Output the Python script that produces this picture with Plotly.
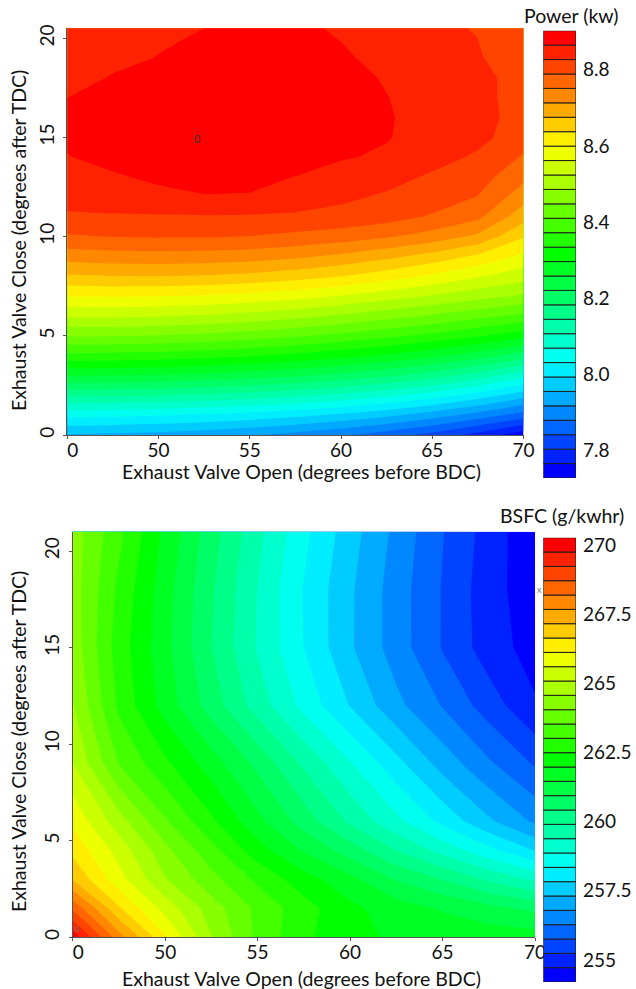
import numpy as np
import plotly.graph_objects as go

# ---------------- data ----------------
# Exhaust valve open timing (degrees before BDC)
evo = [45, 47.5, 50, 52.5, 55, 57.5, 60, 62.5, 65, 67.5, 70]

# Exhaust valve close timing (degrees after TDC) for the power map
evc_power = [0, 1, 2, 3, 4, 5, 6, 7, 8, 9, 10, 11, 12, 13, 14, 15, 16, 17, 18, 19, 20, 20.5]

# Brake power (kW); one row per EVC value, one column per EVO value
power_kw = [
    [7.950, 7.946, 7.940, 7.931, 7.919, 7.903, 7.883, 7.858, 7.827, 7.788, 7.740],
    [8.040, 8.037, 8.032, 8.025, 8.015, 8.001, 7.984, 7.962, 7.934, 7.899, 7.860],
    [8.150, 8.148, 8.144, 8.137, 8.127, 8.114, 8.097, 8.076, 8.049, 8.013, 7.970],
    [8.260, 8.258, 8.254, 8.247, 8.237, 8.224, 8.208, 8.188, 8.163, 8.127, 8.080],
    [8.360, 8.358, 8.354, 8.347, 8.337, 8.324, 8.308, 8.289, 8.267, 8.237, 8.200],
    [8.450, 8.449, 8.445, 8.438, 8.428, 8.415, 8.399, 8.381, 8.361, 8.337, 8.310],
    [8.530, 8.530, 8.526, 8.520, 8.510, 8.497, 8.481, 8.462, 8.442, 8.421, 8.400],
    [8.600, 8.602, 8.600, 8.595, 8.587, 8.575, 8.559, 8.540, 8.520, 8.500, 8.480],
    [8.670, 8.674, 8.675, 8.672, 8.665, 8.653, 8.637, 8.617, 8.592, 8.565, 8.540],
    [8.730, 8.735, 8.737, 8.735, 8.730, 8.720, 8.705, 8.685, 8.660, 8.630, 8.590],
    [8.785, 8.790, 8.792, 8.792, 8.788, 8.780, 8.770, 8.755, 8.735, 8.705, 8.640],
    [8.820, 8.822, 8.823, 8.824, 8.823, 8.820, 8.816, 8.805, 8.785, 8.760, 8.690],
    [8.845, 8.853, 8.858, 8.863, 8.861, 8.852, 8.834, 8.822, 8.808, 8.788, 8.730],
    [8.857, 8.862, 8.870, 8.878, 8.880, 8.864, 8.850, 8.840, 8.822, 8.806, 8.760],
    [8.864, 8.873, 8.881, 8.889, 8.892, 8.886, 8.868, 8.860, 8.840, 8.822, 8.785],
    [8.869, 8.878, 8.886, 8.895, 8.900, 8.897, 8.885, 8.867, 8.851, 8.836, 8.810],
    [8.870, 8.878, 8.885, 8.893, 8.898, 8.896, 8.886, 8.868, 8.852, 8.838, 8.815],
    [8.865, 8.873, 8.880, 8.888, 8.894, 8.893, 8.883, 8.866, 8.850, 8.836, 8.815],
    [8.855, 8.867, 8.874, 8.882, 8.888, 8.887, 8.877, 8.862, 8.846, 8.836, 8.815],
    [8.845, 8.858, 8.866, 8.874, 8.880, 8.880, 8.870, 8.855, 8.842, 8.830, 8.808],
    [8.835, 8.848, 8.861, 8.868, 8.874, 8.873, 8.864, 8.850, 8.838, 8.827, 8.804],
    [8.830, 8.845, 8.860, 8.865, 8.872, 8.870, 8.862, 8.850, 8.838, 8.824, 8.802],
]

# Exhaust valve close timing for the BSFC map
evc_bsfc = [0, 1.5, 3, 4.5, 6, 9, 12, 15, 18, 21]

# Brake specific fuel consumption (g/kWh)
bsfc = [
    [270.10, 267.90, 266.20, 264.60, 263.40, 262.60, 262.10, 261.90, 261.80, 261.75, 261.70],
    [268.60, 266.70, 265.40, 264.30, 263.40, 262.70, 262.10, 261.70, 261.40, 261.10, 260.80],
    [267.10, 265.80, 264.60, 263.70, 262.90, 262.20, 261.60, 260.90, 260.40, 259.80, 259.30],
    [266.50, 265.40, 264.20, 263.20, 262.20, 261.40, 260.70, 259.90, 259.20, 258.50, 257.80],
    [266.00, 264.80, 263.60, 262.60, 261.60, 260.70, 259.80, 259.00, 258.20, 257.40, 256.70],
    [265.10, 263.50, 262.60, 261.70, 260.80, 259.80, 258.90, 258.00, 257.10, 256.35, 255.70],
    [264.60, 262.90, 261.75, 260.70, 259.65, 258.70, 257.80, 256.93, 256.24, 255.50, 254.78],
    [264.35, 262.76, 261.61, 260.43, 259.33, 258.34, 257.38, 256.54, 255.72, 254.97, 254.50],
    [264.30, 262.89, 261.67, 260.48, 259.36, 258.31, 257.39, 256.53, 255.72, 254.93, 254.40],
    [264.30, 263.14, 261.85, 260.65, 259.52, 258.49, 257.53, 256.65, 255.78, 255.01, 254.30],
]

# Tick labels
x_tickvals = [45, 50, 55, 60, 65, 70]
x_ticktext = ["\u20070", "50", "55", "60", "65", "70"]
y_tickvals = [0, 5, 10, 15, 20]
power_ticks = [7.8, 8.0, 8.2, 8.4, 8.6, 8.8]
power_ticktext = ["7.8", "8.0", "8.2", "8.4", "8.6", "8.8"]
bsfc_ticks = [255, 257.5, 260, 262.5, 265, 267.5, 270]
bsfc_ticktext = ["255", "257.5", "260", "262.5", "265", "267.5", "270"]

# Contour band layout (31 filled bands per map)
N_BANDS = 31
POWER_RANGE = (7.726, 8.903)
BSFC_RANGE = (254.2, 270.26)

# ---------------- styling ----------------
FONT = "Lato"
rainbow = [
    [0.0, "rgb(0,0,255)"],
    [0.25, "rgb(0,255,255)"],
    [0.5, "rgb(0,255,0)"],
    [0.75, "rgb(255,255,0)"],
    [1.0, "rgb(255,0,0)"],
]
W, H = 636, 989


def px_x(p):
    return p / W


def px_y(p):
    return 1 - p / H


def band_edges(lo, hi):
    return np.linspace(lo, hi, N_BANDS + 1)


def contour_trace(x, y, z, lo, hi, xa, ya):
    edges = band_edges(lo, hi)
    step = edges[1] - edges[0]
    return go.Contour(
        x=x, y=y, z=z,
        colorscale=rainbow,
        autocontour=False,
        contours=dict(start=edges[1], end=edges[-2], size=step,
                      coloring="fill", showlines=False),
        line=dict(width=0, smoothing=0),
        showscale=False,
        hoverinfo="skip",
        xaxis=xa, yaxis=ya,
    )


def legend_bar(lo, hi, xa, ya):
    # discrete colour key: one outlined block per contour band
    edges = band_edges(lo, hi)
    step = edges[1] - edges[0]
    return go.Bar(
        x=[0] * N_BANDS,
        y=[step] * N_BANDS,
        base=list(edges[:-1]),
        width=1,
        marker=dict(color=list(range(N_BANDS)), colorscale=rainbow,
                    cmin=0, cmax=N_BANDS - 1,
                    line=dict(color="#1e1e1e", width=1)),
        hoverinfo="skip",
        showlegend=False,
        xaxis=xa, yaxis=ya,
    )


fig = go.Figure()
fig.add_trace(contour_trace(evo, evc_power, power_kw, *POWER_RANGE, "x", "y"))
fig.add_trace(contour_trace(evo, evc_bsfc, bsfc, *BSFC_RANGE, "x2", "y2"))
fig.add_trace(legend_bar(*POWER_RANGE, "x3", "y3"))
fig.add_trace(legend_bar(*BSFC_RANGE, "x4", "y4"))

tick_font = dict(family=FONT, size=19, color="#111")
axis_common = dict(showgrid=False, zeroline=False, showline=True,
                   linecolor="#555", linewidth=1, ticks="outside",
                   ticklen=3, tickcolor="#555", tickfont=tick_font,
                   automargin=False)
xaxis_extra = dict(ticklabelstandoff=-5)
yaxis_extra = dict(tickangle=-90, ticklabelstandoff=2)

# main plot areas
top_dom_x = [px_x(67.3), px_x(523.5)]
top_dom_y = [px_y(435), px_y(28.3)]
bot_dom_x = [px_x(72.7), px_x(535)]
bot_dom_y = [px_y(937.3), px_y(531.7)]

key_axis = dict(side="right", showgrid=False, zeroline=False, showline=False,
                ticks="", ticklabelstandoff=6, tickfont=tick_font,
                automargin=False)

fig.update_layout(
    width=W, height=H,
    margin=dict(l=0, r=0, t=0, b=0, autoexpand=False),
    paper_bgcolor="white", plot_bgcolor="white",
    showlegend=False, barmode="overlay",
    font=dict(family=FONT, color="#111"),
    xaxis=dict(domain=top_dom_x, anchor="y", range=[45, 70],
               tickvals=x_tickvals, ticktext=x_ticktext,
               **axis_common, **xaxis_extra),
    yaxis=dict(domain=top_dom_y, anchor="x", range=[0, 20.5],
               tickvals=y_tickvals, **axis_common, **yaxis_extra),
    xaxis2=dict(domain=bot_dom_x, anchor="y2", range=[45, 70],
                tickvals=x_tickvals, ticktext=x_ticktext,
                **axis_common, **xaxis_extra),
    yaxis2=dict(domain=bot_dom_y, anchor="x2", range=[0, 21],
                tickvals=y_tickvals, **axis_common, **yaxis_extra),
    xaxis3=dict(domain=[px_x(543.3), px_x(576)], anchor="y3",
                range=[-0.5, 0.5], visible=False, fixedrange=True,
                automargin=False),
    yaxis3=dict(domain=[px_y(478), px_y(30.7)], anchor="x3",
                range=list(POWER_RANGE), tickvals=power_ticks,
                ticktext=power_ticktext, **key_axis),
    xaxis4=dict(domain=[px_x(543.3), px_x(576)], anchor="y4",
                range=[-0.5, 0.5], visible=False, fixedrange=True,
                automargin=False),
    yaxis4=dict(domain=[px_y(982), px_y(537.7)], anchor="x4",
                range=list(BSFC_RANGE), tickvals=bsfc_ticks,
                ticktext=bsfc_ticktext, **key_axis),
)

title_font = dict(family=FONT, size=19.5, color="#111")
x_title = "Exhaust Valve Open (degrees before BDC)"
y_title = "Exhaust Valve Close (degrees after TDC)"

annotations = [
    dict(text=x_title, x=px_x(301), y=px_y(472), xref="paper", yref="paper",
         xanchor="center", yanchor="middle", showarrow=False, font=title_font),
    dict(text=x_title, x=px_x(301), y=px_y(978), xref="paper", yref="paper",
         xanchor="center", yanchor="middle", showarrow=False, font=title_font),
    dict(text=y_title, x=px_x(18), y=px_y(241), xref="paper", yref="paper",
         xanchor="center", yanchor="middle", textangle=-90, showarrow=False,
         font=title_font),
    dict(text=y_title, x=px_x(18), y=px_y(742), xref="paper", yref="paper",
         xanchor="center", yanchor="middle", textangle=-90, showarrow=False,
         font=title_font),
    dict(text="Power (kw)", x=px_x(571), y=px_y(15), xref="paper", yref="paper",
         xanchor="center", yanchor="middle", showarrow=False, font=title_font),
    dict(text="BSFC (g/kwhr)", x=px_x(562), y=px_y(515), xref="paper", yref="paper",
         xanchor="center", yanchor="middle", showarrow=False, font=title_font),
    # contour level marker at the power peak
    dict(text="0", x=52.15, y=14.95, xref="x", yref="y", showarrow=False,
         font=dict(family=FONT, size=11, color="#333")),
    # small marks on the BSFC map edges
    dict(text="x", x=70, y=18, xref="x2", yref="y2", xanchor="left", showarrow=False,
         font=dict(family=FONT, size=9, color="#777")),
    dict(text="0", x=45, y=0, xref="x2", yref="y2", xanchor="left",
         yanchor="bottom", yshift=1, showarrow=False,
         font=dict(family=FONT, size=8, color="#777")),
]
fig.update_layout(annotations=annotations)

fig.write_html("out.html")
